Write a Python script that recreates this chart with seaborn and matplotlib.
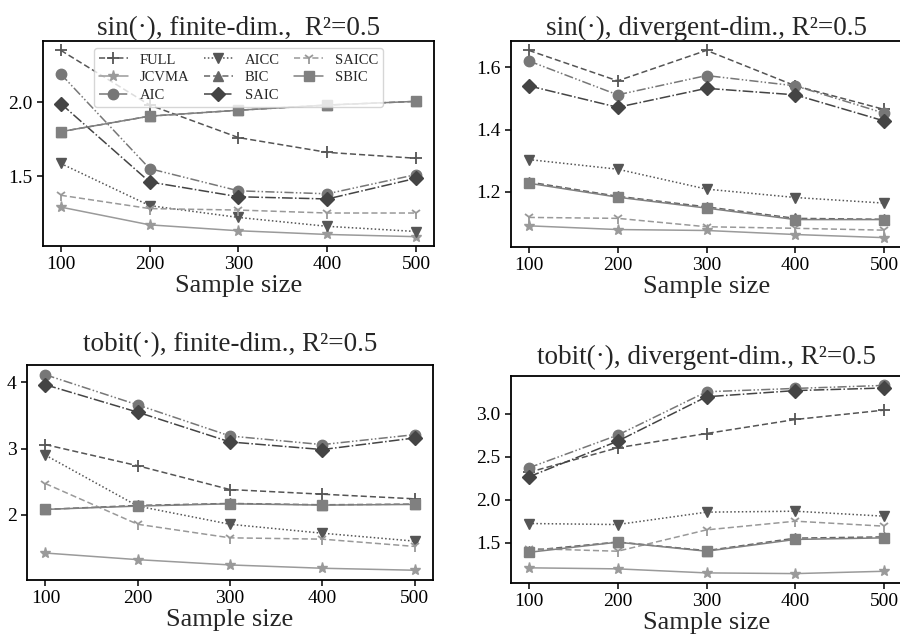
import numpy as np
import pandas as pd
import matplotlib
matplotlib.use("Agg")
import matplotlib.pyplot as plt
import seaborn as sns

sns.set_style("ticks")
plt.rcParams['font.family'] = ['Liberation Serif', 'DejaVu Serif']
plt.rcParams['xtick.direction'] = 'out'
plt.rcParams['ytick.direction'] = 'out'

sample_sizes = [100, 200, 300, 400, 500]
methods = ["FULL", "JCVMA", "AIC", "AICC", "BIC", "SAIC", "SAICC", "SBIC"]

titles = ["sin(\u00b7), finite-dim.,  R\u00b2=0.5",
          "sin(\u00b7), divergent-dim., R\u00b2=0.5",
          "tobit(\u00b7), finite-dim., R\u00b2=0.5",
          "tobit(\u00b7), divergent-dim., R\u00b2=0.5"]
xlabel = "Sample size"

sin_finite = {
    "FULL":  [2.35, 1.98, 1.76, 1.66, 1.62],
    "JCVMA": [1.29, 1.17, 1.13, 1.105, 1.09],
    "AIC":   [2.19, 1.55, 1.40, 1.38, 1.51],
    "AICC":  [1.585, 1.30, 1.22, 1.16, 1.125],
    "BIC":   [1.80, 1.905, 1.945, 1.98, 2.005],
    "SAIC":  [1.99, 1.46, 1.36, 1.345, 1.485],
    "SAICC": [1.37, 1.28, 1.27, 1.25, 1.25],
    "SBIC":  [1.80, 1.905, 1.945, 1.98, 2.005],
}
sin_div = {
    "FULL":  [1.655, 1.557, 1.655, 1.541, 1.465],
    "JCVMA": [1.091, 1.079, 1.076, 1.063, 1.053],
    "AIC":   [1.621, 1.512, 1.574, 1.541, 1.453],
    "AICC":  [1.304, 1.273, 1.209, 1.182, 1.164],
    "BIC":   [1.232, 1.186, 1.152, 1.115, 1.112],
    "SAIC":  [1.541, 1.472, 1.533, 1.512, 1.428],
    "SAICC": [1.118, 1.115, 1.088, 1.083, 1.077],
    "SBIC":  [1.228, 1.183, 1.148, 1.111, 1.111],
}
tobit_finite = {
    "FULL":  [3.06, 2.74, 2.38, 2.31, 2.24],
    "JCVMA": [1.42, 1.32, 1.24, 1.19, 1.16],
    "AIC":   [4.116, 3.66, 3.19, 3.06, 3.21],
    "AICC":  [2.90, 2.13, 1.855, 1.72, 1.60],
    "BIC":   [2.08, 2.14, 2.17, 2.15, 2.16],
    "SAIC":  [3.965, 3.55, 3.10, 2.985, 3.16],
    "SAICC": [2.47, 1.855, 1.65, 1.63, 1.52],
    "SBIC":  [2.08, 2.13, 2.165, 2.145, 2.155],
}
tobit_div = {
    "FULL":  [2.32, 2.605, 2.771, 2.934, 3.043],
    "JCVMA": [1.21, 1.198, 1.151, 1.143, 1.17],
    "AIC":   [2.372, 2.752, 3.256, 3.295, 3.33],
    "AICC":  [1.725, 1.713, 1.857, 1.868, 1.81],
    "BIC":   [1.41, 1.51, 1.41, 1.555, 1.57],
    "SAIC":  [2.267, 2.682, 3.198, 3.27, 3.30],
    "SAICC": [1.434, 1.403, 1.651, 1.752, 1.694],
    "SBIC":  [1.39, 1.508, 1.403, 1.54, 1.558],
}
panels = [sin_finite, sin_div, tobit_finite, tobit_div]

styles = {
    "FULL":  dict(color="#555555", marker="+", ls=(0, (4, 2)), ms=8, mew=1.3),
    "JCVMA": dict(color="#9a9a9a", marker="*", ls="-", ms=8, mew=1),
    "AIC":   dict(color="#777777", marker="o", ls=(0, (6, 1.5, 1, 1.5, 1, 1.5)), ms=7.5, mew=1),
    "AICC":  dict(color="#555555", marker="v", ls=(0, (1, 1.5)), ms=7.5, mew=1),
    "BIC":   dict(color="#666666", marker="^", ls=(0, (4, 2)), ms=7.5, mew=1),
    "SAIC":  dict(color="#444444", marker="D", ls=(0, (7, 1.5, 1, 1.5)), ms=7, mew=1),
    "SAICC": dict(color="#999999", marker="1", ls=(0, (4, 2)), ms=8, mew=1.3),
    "SBIC":  dict(color="#808080", marker="s", ls="-", ms=7, mew=1),
}

positions = [
    [43/900, 1-246/636, 391/900, 205/636],
    [511/900, 1-247/636, 391/900, 206/636],
    [27/900, 1-580/636, 406/900, 215/636],
    [511/900, 1-583/636, 391/900, 207/636],
]
title_pads = [3, 3, 10, 8.5]

fig = plt.figure(figsize=(9, 6.36), dpi=100)
for i, (data, pos) in enumerate(zip(panels, positions)):
    ax = fig.add_axes(pos)
    for m in methods:
        st = styles[m]
        df = pd.DataFrame({"n": sample_sizes, "v": data[m]})
        sns.lineplot(data=df, x="n", y="v", ax=ax, color=st["color"],
                     marker=st["marker"], linestyle=st["ls"], lw=1.1,
                     markersize=st["ms"], markeredgecolor=st["color"],
                     markeredgewidth=st["mew"], label=m if i == 0 else None,
                     legend=False)
    ax.set_xticks(sample_sizes)
    ax.set_title(titles[i], fontsize=19.5, pad=title_pads[i])
    ax.set_xlabel(xlabel, fontsize=19, labelpad=1)
    ax.set_ylabel("")
    ax.tick_params(labelsize=14, length=4, width=1.1, colors="black")
    for sp in ax.spines.values():
        sp.set_visible(True)
        sp.set_linewidth(1.3)
        sp.set_color("black")
    if i == 0:
        h, l = ax.get_legend_handles_labels()
        ax.legend(h, l, ncol=3, loc="upper center", bbox_to_anchor=(0.5, 1.0),
                  fontsize=10.5, frameon=True, edgecolor="#cccccc",
                  columnspacing=1.0, handlelength=2.0, labelspacing=0.3,
                  borderpad=0.35)

fig.savefig("out.png", dpi=100)
